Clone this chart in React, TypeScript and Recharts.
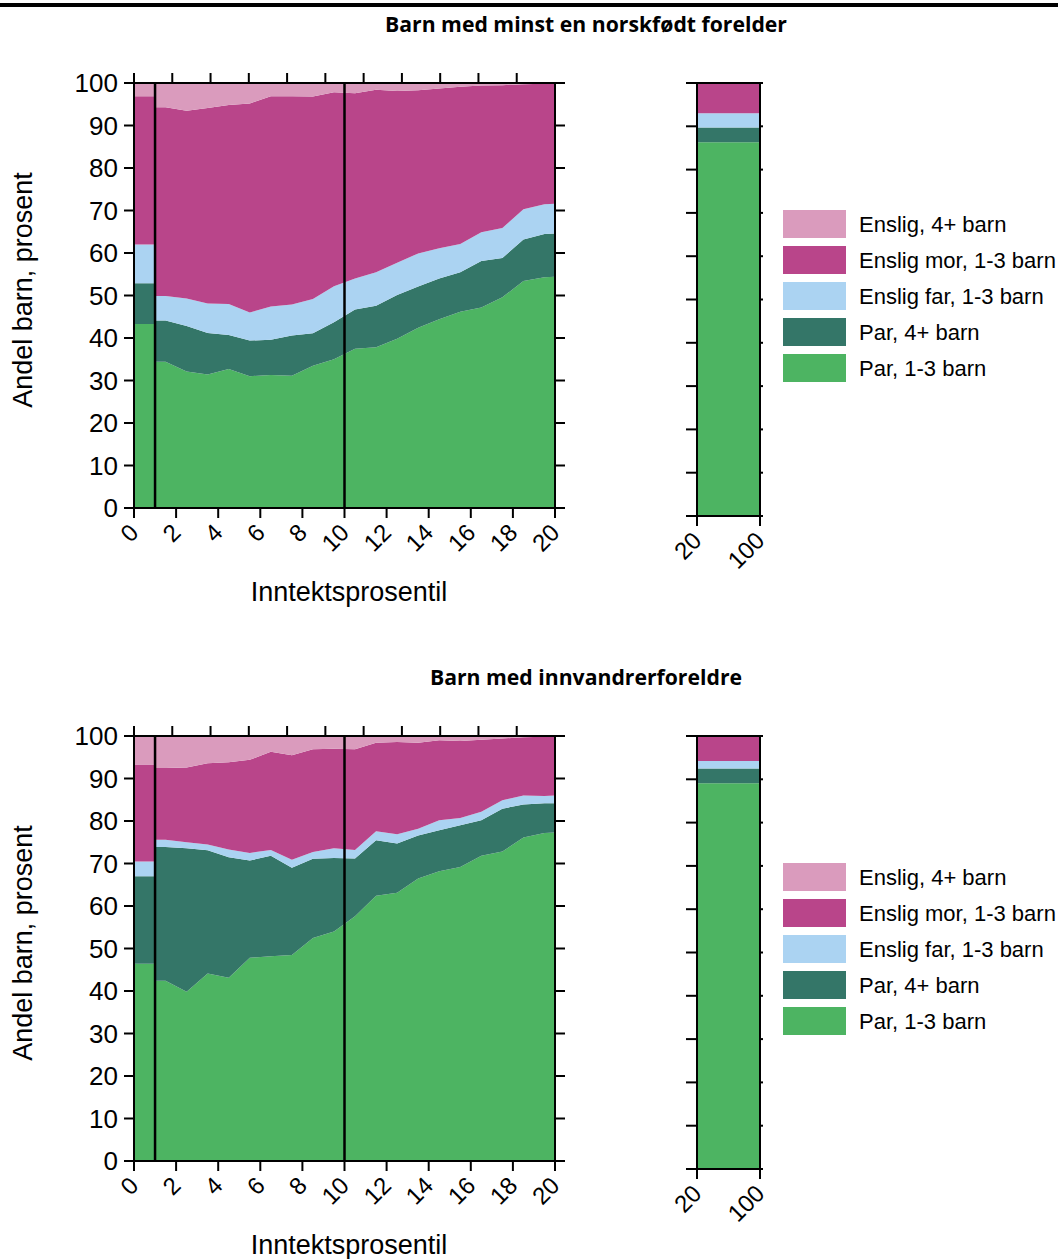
import React from "react";
import { AreaChart, Area, XAxis, YAxis, ReferenceLine } from "recharts";

// x positions of the percentile points; the first bin is drawn flat from 0 to 1
const pctX = [0, 1, 1, 1.5, 2.5, 3.5, 4.5, 5.5, 6.5, 7.5, 8.5, 9.5, 10.5, 11.5, 12.5, 13.5, 14.5, 15.5, 16.5, 17.5, 18.5, 19.5, 20];
const pctTicks = [0, 2, 4, 6, 8, 10, 12, 14, 16, 18, 20];
const shareTicks = [0, 10, 20, 30, 40, 50, 60, 70, 80, 90, 100];
const restX = [20, 100];
const markLines = [1, 10];

const seriesKeys = ["parSmall", "parBig", "farSmall", "morSmall", "ensligBig"];
const seriesLabels = ["Par, 1-3 barn", "Par, 4+ barn", "Enslig far, 1-3 barn", "Enslig mor, 1-3 barn", "Enslig, 4+ barn"];
const seriesColors = ["#4db462", "#347668", "#abd3f2", "#b9458a", "#da9bbd"];

// Barn med minst en norskfødt forelder
const norParSmall = [43.3, 43.3, 34.4, 34.4, 32.1, 31.4, 32.7, 31.0, 31.3, 31.1, 33.5, 35.0, 37.5, 37.8, 39.8, 42.4, 44.4, 46.2, 47.2, 49.6, 53.4, 54.3, 54.4];
const norParBig = [9.6, 9.6, 9.7, 9.7, 10.7, 9.8, 8.0, 8.4, 8.3, 9.5, 7.6, 8.7, 9.2, 9.8, 10.3, 9.7, 9.6, 9.3, 10.9, 9.2, 9.8, 10.2, 10.2];
const norFarSmall = [9.1, 9.1, 5.8, 5.8, 6.5, 6.9, 7.3, 6.6, 7.8, 7.3, 8.1, 8.5, 7.3, 7.9, 7.6, 7.8, 7.1, 6.6, 6.8, 7.1, 7.1, 7.0, 7.0];
const norMorSmall = [34.9, 34.9, 44.4, 44.4, 44.2, 46.0, 46.8, 49.2, 49.5, 49.0, 47.6, 45.6, 43.6, 42.9, 40.4, 38.4, 37.6, 37.0, 34.5, 33.6, 29.4, 28.3, 28.2];
const norEnsligBig = [3.1, 3.1, 5.7, 5.7, 6.5, 5.9, 5.2, 4.8, 3.1, 3.1, 3.2, 2.2, 2.4, 1.6, 1.9, 1.7, 1.3, 0.9, 0.6, 0.5, 0.3, 0.2, 0.2];
const norRest = [86.3, 3.4, 3.3, 6.8, 0.2];

// Barn med innvandrerforeldre
const innParSmall = [46.4, 46.4, 42.4, 42.4, 39.8, 44.1, 43.1, 47.8, 48.2, 48.5, 52.5, 54.0, 57.6, 62.4, 63.1, 66.5, 68.2, 69.2, 71.8, 72.8, 76.1, 77.2, 77.3];
const innParBig = [20.6, 20.6, 31.5, 31.5, 33.8, 29.0, 28.4, 22.9, 23.6, 20.5, 18.6, 17.3, 13.6, 13.1, 11.6, 10.1, 9.6, 9.8, 8.4, 10.1, 7.8, 7.0, 6.9];
const innFarSmall = [3.5, 3.5, 1.7, 1.7, 1.4, 1.4, 1.8, 1.8, 1.4, 1.9, 1.6, 2.3, 2.0, 2.1, 2.2, 1.6, 2.4, 1.7, 2.0, 2.0, 2.1, 1.7, 1.8];
const innMorSmall = [22.8, 22.8, 16.9, 16.9, 17.6, 19.1, 20.5, 21.9, 23.1, 24.6, 24.2, 23.4, 23.7, 20.8, 21.7, 20.2, 18.8, 18.1, 16.9, 14.5, 13.7, 13.9, 13.8];
const innEnsligBig = [6.7, 6.7, 7.5, 7.5, 7.4, 6.4, 6.2, 5.6, 3.7, 4.5, 3.1, 3.0, 3.1, 1.6, 1.4, 1.6, 1.0, 1.2, 0.9, 0.6, 0.3, 0.2, 0.2];
const innRest = [89.1, 3.4, 1.7, 5.8, 0.0];

const FONT = "'Liberation Sans', Arial, sans-serif";
const axisStyle = { stroke: "#000", strokeWidth: 2 };

const buildRows = (cols: number[][]) =>
  pctX.map((x, i) => {
    const row: any = { x };
    seriesKeys.forEach((k, j) => (row[k] = cols[j][i]));
    return row;
  });

const buildRest = (vals: number[]) =>
  restX.map((x) => {
    const row: any = { x };
    seriesKeys.forEach((k, j) => (row[k] = vals[j]));
    return row;
  });

const EmptyTick = () => <g />;

const SlantTick = (props: any) => {
  const { x, y, payload } = props;
  return (
    <g transform={`translate(${x - 6},${y})`}>
      <text transform="rotate(-45)" textAnchor="end" dy="0.71em" fontSize={24} fill="#000" fontFamily={FONT}>
        {payload.value}
      </text>
    </g>
  );
};

const renderAreas = () =>
  seriesKeys.map((k, i) => (
    <Area
      key={k}
      type="linear"
      dataKey={k}
      stackId="s"
      stroke="none"
      fill={seriesColors[i]}
      fillOpacity={1}
      dot={false}
      activeDot={false}
      isAnimationActive={false}
    />
  ));

const Panel = ({ top, title, rows, rest }: any) => (
  <>
    <div style={{ position: "absolute", left: 0, top }}>
      <AreaChart width={600} height={600} data={rows} margin={{ top: 73, right: 35, bottom: 32, left: 0 }}>
        <XAxis
          dataKey="x"
          type="number"
          domain={[0, 20]}
          ticks={pctTicks}
          interval={0}
          height={60}
          tickSize={10}
          tickMargin={4}
          axisLine={axisStyle}
          tickLine={axisStyle}
          tick={<SlantTick />}
          allowDataOverflow
        />
        <XAxis
          xAxisId="top"
          orientation="top"
          type="number"
          domain={[0, 20]}
          ticks={pctTicks}
          interval={0}
          height={10}
          tickSize={10}
          axisLine={axisStyle}
          tickLine={axisStyle}
          tick={<EmptyTick />}
          allowDataOverflow
        />
        <YAxis
          type="number"
          domain={[0, 100]}
          ticks={shareTicks}
          interval={0}
          width={134}
          tickSize={10}
          tickMargin={6}
          axisLine={axisStyle}
          tickLine={axisStyle}
          tick={{ fontSize: 26, fill: "#000", fontFamily: FONT }}
          allowDataOverflow
        />
        <YAxis
          yAxisId="right"
          orientation="right"
          type="number"
          domain={[0, 100]}
          ticks={shareTicks}
          interval={0}
          width={10}
          tickSize={10}
          axisLine={axisStyle}
          tickLine={axisStyle}
          tick={<EmptyTick />}
          allowDataOverflow
        />
        {renderAreas()}
        {markLines.map((v) => (
          <ReferenceLine key={v} x={v} stroke="#000" strokeWidth={2.5} />
        ))}
      </AreaChart>
    </div>
    <div style={{ position: "absolute", left: 597, top }}>
      <AreaChart width={200} height={600} data={rest} margin={{ top: 73, right: 27, bottom: 24, left: 0 }}>
        <XAxis
          dataKey="x"
          type="number"
          domain={[20, 100]}
          ticks={restX}
          interval={0}
          height={60}
          tickSize={10}
          tickMargin={4}
          axisLine={axisStyle}
          tickLine={axisStyle}
          tick={<SlantTick />}
          allowDataOverflow
        />
        <XAxis
          xAxisId="top"
          orientation="top"
          type="number"
          domain={[20, 100]}
          ticks={restX}
          interval={0}
          height={10}
          tickSize={8}
          axisLine={axisStyle}
          tickLine={axisStyle}
          tick={<EmptyTick />}
          allowDataOverflow
        />
        <YAxis
          type="number"
          domain={[0, 100]}
          ticks={shareTicks}
          interval={0}
          width={100}
          tickSize={11}
          axisLine={axisStyle}
          tickLine={axisStyle}
          tick={<EmptyTick />}
          allowDataOverflow
        />
        <YAxis
          yAxisId="right"
          orientation="right"
          type="number"
          domain={[0, 100]}
          ticks={shareTicks}
          interval={0}
          width={10}
          tickSize={3}
          axisLine={axisStyle}
          tickLine={axisStyle}
          tick={<EmptyTick />}
          allowDataOverflow
        />
        {renderAreas()}
      </AreaChart>
    </div>
    <svg
      width={1058}
      height={660}
      style={{ position: "absolute", left: 0, top, pointerEvents: "none" }}
    >
      <text x={586} y={31.5} textAnchor="middle" fontSize={21.2} fontWeight={700} fontFamily="'Open Sans', 'Noto Sans', sans-serif" fill="#000">
        {title}
      </text>
      <text transform="translate(32,290) rotate(-90)" textAnchor="middle" fontSize={27} fontFamily={FONT} fill="#000">
        Andel barn, prosent
      </text>
      <text x={349} y={601} textAnchor="middle" fontSize={27} fontFamily={FONT} fill="#000">
        Inntektsprosentil
      </text>
      {[4, 3, 2, 1, 0].map((si, row) => {
        const cy = 224 + row * 36;
        return (
          <g key={si}>
            <rect x={783} y={cy - 14} width={63} height={28} fill={seriesColors[si]} />
            <text x={859} y={cy + 8} fontSize={22} fontFamily={FONT} fill="#000">
              {seriesLabels[si]}
            </text>
          </g>
        );
      })}
    </svg>
  </>
);

export default function App() {
  const norRows = buildRows([norParSmall, norParBig, norFarSmall, norMorSmall, norEnsligBig]);
  const innRows = buildRows([innParSmall, innParBig, innFarSmall, innMorSmall, innEnsligBig]);
  return (
    <div style={{ position: "absolute", left: 0, top: 0, width: 1058, height: 1259, background: "#fff", overflow: "hidden" }}>
      <div style={{ position: "absolute", left: 0, top: 3, width: 1058, height: 4, background: "#000" }} />
      <Panel top={0} title="Barn med minst en norskfødt forelder" rows={norRows} rest={buildRest(norRest)} />
      <Panel top={653} title="Barn med innvandrerforeldre" rows={innRows} rest={buildRest(innRest)} />
    </div>
  );
}
